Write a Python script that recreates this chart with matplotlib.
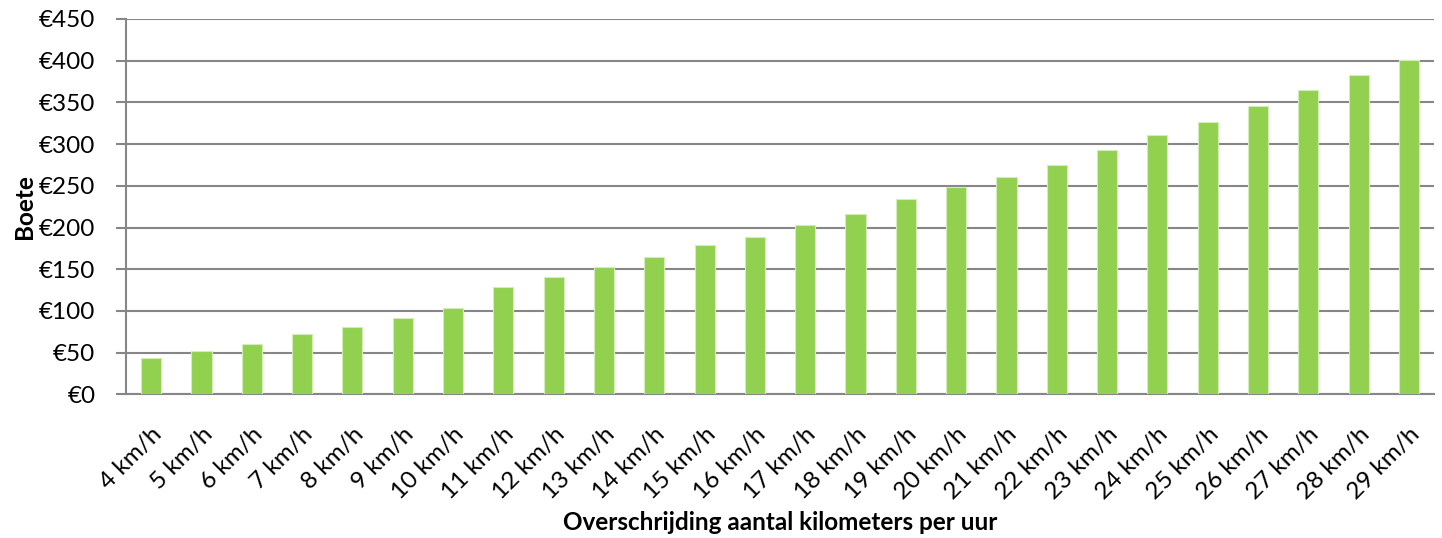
import numpy as np
import matplotlib
matplotlib.use("Agg")
import matplotlib.pyplot as plt

plt.rcParams['font.family'] = ['Lato', 'DejaVu Sans']

# overschrijding in km/h en bijbehorende boete in euro
speeds = list(range(4, 30))
labels = [f"{s} km/h" for s in speeds]
fines = [44, 52, 60, 72, 81, 92, 103, 129, 141, 153, 165, 179, 189,
         203, 216, 234, 249, 261, 275, 293, 311, 327, 346, 365, 383, 401]
yticks = list(range(0, 451, 50))

fig = plt.figure(figsize=(14.42, 5.38), dpi=100)
ax = fig.add_axes([0.0874, 0.267, 0.9071, 0.6977])

x = np.arange(len(fines))
ax.bar(x, fines, width=0.4, color='#92D050', edgecolor='#D4EDB8', linewidth=0.8, zorder=3)

ax.set_xlim(-0.5, len(fines) - 0.5)
ax.set_ylim(0, 450)
ax.set_yticks(yticks)
ax.set_yticklabels([f"€{v}" for v in yticks], fontsize=17.5)
ax.set_xticks(x)
ax.set_xticklabels(labels, rotation=45, ha='right', rotation_mode='anchor', fontsize=17.5)

ax.yaxis.grid(True, color='#868686', linewidth=1.5, zorder=0)
ax.set_axisbelow(True)
for side in ['top', 'right']:
    ax.spines[side].set_visible(False)
for side in ['left', 'bottom']:
    ax.spines[side].set_color('#868686')
    ax.spines[side].set_linewidth(1.5)
ax.tick_params(axis='y', length=7, width=1.5, color='#868686', pad=15)
ax.tick_params(axis='x', length=0, pad=21)

ax.set_ylabel('Boete', fontsize=17.5, fontweight='bold', labelpad=2)
ax.set_xlabel('Overschrijding aantal kilometers per uur', fontsize=17.5, fontweight='bold', labelpad=6)

fig.savefig('out.png', dpi=100)
